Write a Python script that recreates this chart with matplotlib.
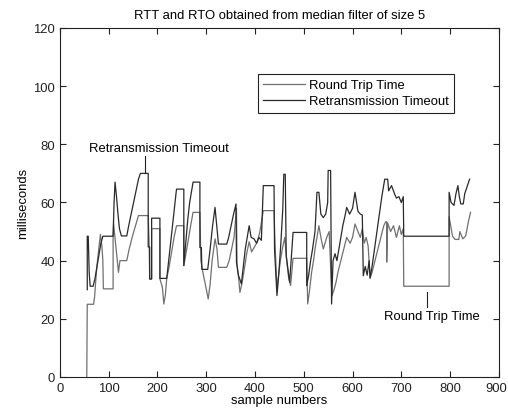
import matplotlib
matplotlib.use("Agg")
import matplotlib.pyplot as plt
import matplotlib.transforms as mtransforms

plt.rcParams['font.family'] = ['Liberation Sans', 'DejaVu Sans']

title = "RTT and RTO obtained from median filter of size 5"
xlabel = "sample numbers"
ylabel = "milliseconds"
legend_labels = ["Round Trip Time", "Retransmission Timeout"]
xticks = [0, 100, 200, 300, 400, 500, 600, 700, 800, 900]
yticks = [0, 20, 40, 60, 80, 100, 120]

# Round Trip Time (lower, gray) vertices: sample numbers and values (ms)
rtt_x = [55, 56, 69, 71, 73, 75, 77, 80, 83, 86, 88, 89, 109, 109, 110, 120, 123, 137, 142, 148, 155, 161, 181,
         183, 184, 188, 188, 205, 205, 210, 213, 216, 219, 224, 229, 234, 239, 254, 254, 258, 263, 268, 273, 287,
         289, 293, 298, 304, 308, 312, 318, 322, 325, 342, 347, 352, 357, 362, 363, 367, 369, 373, 378, 383, 388,
         393, 400, 405, 410, 417, 439, 441, 445, 449, 452, 456, 461, 465, 469, 473, 478, 506, 508, 512, 516, 520,
         523, 527, 531, 535, 540, 547, 552, 556, 558, 562, 566, 570, 576, 582, 588, 595, 600, 605, 611, 616, 620,
         624, 628, 632, 636, 640, 646, 652, 658, 664, 668, 670, 670, 672, 678, 684, 690, 696, 700, 704, 705, 798,
         798, 805, 810, 818, 820, 826, 832, 838, 842]
rtt_y = [0, 25, 25, 27.5, 32, 36.6, 40, 44.7, 49, 45, 40, 30.3, 30.3, 48, 52.7, 36, 40, 40, 44, 48, 52, 55.5, 55.5,
         45, 33.7, 33.7, 51, 51, 33.7, 30.9, 25.1, 28, 33.9, 38, 43, 48, 52, 52, 38.3, 42, 47, 52, 56.6, 56.6,
         40, 36, 32, 26.8, 32, 40, 47.5, 44, 37.7, 37.7, 40, 44, 48, 58, 39, 33, 29.1, 32, 37, 42.5, 46.5,
         43, 45, 46.5, 50, 57.2, 57.2, 46, 30, 36, 40, 44, 48, 40, 34, 31.5, 40.8, 40.8, 25.1, 30, 36, 40,
         44, 48, 52, 48, 44, 48, 50, 34, 28, 30, 32.5, 36, 40, 44, 48, 46, 48, 52.6, 50, 48, 51,
         46, 48, 45, 34, 36, 40, 44, 48, 52, 53.4, 53.4, 39.5, 53, 50, 52, 48, 52, 49, 51, 31.2, 31.2,
         55.1, 48.4, 47.3, 47.3, 50, 47.5, 48.5, 53.8, 56.6]

# Retransmission Timeout (upper, dark) vertices
rto_x = [56, 56, 58, 60, 62, 68, 72, 76, 80, 84, 88, 109, 111, 113, 116, 119, 122, 126, 137, 141, 146, 151, 156, 161,
         165, 181, 181, 184, 184, 188, 188, 205, 205, 219, 223, 227, 231, 235, 239, 254, 254, 258, 262, 266, 273,
         287, 287, 290, 291, 303, 308, 313, 318, 322, 325, 342, 346, 351, 356, 361, 362, 366, 372, 376, 380, 384,
         388, 392, 398, 403, 408, 413, 417, 439, 440, 443, 445, 449, 453, 457, 459, 462, 464, 471, 474, 478, 506,
         506, 510, 514, 518, 523, 527, 531, 535, 540, 545, 549, 550, 555, 557, 560, 564, 568, 572, 576, 580, 584,
         588, 594, 600, 605, 611, 616, 620, 622, 626, 630, 634, 636, 640, 645, 650, 655, 660, 666, 672, 674, 680,
         686, 690, 695, 700, 704, 705, 798, 798, 802, 808, 812, 816, 819, 822, 827, 830, 834, 840]
rto_y = [30, 48.4, 48.4, 35.8, 31.2, 31.2, 34, 38, 42, 46, 48.4, 48.4, 60, 67, 62, 56, 51, 48.5, 48.5, 52, 56, 60, 64, 68,
         70, 70, 44.7, 44.7, 33.7, 33.7, 54.6, 54.6, 33.9, 33.9, 40, 46, 52, 58, 64.6, 64.6, 38.3, 46, 54, 60, 67,
         67, 44.5, 44.5, 37, 37, 44, 52, 58.3, 51, 45.7, 45.7, 48, 52, 56, 59.5, 39.4, 35, 32, 38, 44, 48,
         52, 48, 47.5, 46, 48, 47, 65.8, 65.8, 44, 34, 28, 36, 46, 58, 69.7, 69.7, 41.7, 32.6, 40, 49.7, 49.7,
         31.4, 35, 40, 44, 50, 63.5, 63.5, 56, 54.8, 56, 60, 71, 71, 25.1, 40, 42.4, 40, 44, 48, 52, 55,
         58.3, 56, 58, 63.5, 57, 56, 55.7, 34.8, 38, 35, 40, 34, 38, 44, 50, 56, 62, 68, 68, 64, 65.8,
         63, 61.5, 62, 60, 62, 48.4, 48.4, 63.5, 60, 59, 63, 65.8, 62, 59.5, 59.5, 63, 65, 68]

FS = 9.4
fig = plt.figure(figsize=(5.08, 4.14), dpi=100)
ax = fig.add_axes([0.118, 0.087, 0.864, 0.843])

ax.plot(rtt_x, rtt_y, color='#707070', lw=0.9, label=legend_labels[0])
ax.plot(rto_x, rto_y, color='#2a2a2a', lw=0.9, label=legend_labels[1])

ax.set_xlim(0, 900)
ax.set_ylim(0, 120)
ax.set_xticks(xticks)
ax.set_yticks(yticks)
ax.tick_params(direction='in', top=True, right=True, labelsize=FS, length=4, width=0.8, colors='#222222')
for s in ax.spines.values():
    s.set_linewidth(0.8)
    s.set_color('#222222')

# keep the last x tick label inside the canvas
fig.canvas.draw()
last = ax.get_xticklabels()[-1]
last.set_transform(last.get_transform() + mtransforms.ScaledTranslation(-3 / 100, 0, fig.dpi_scale_trans))

ax.set_title(title, fontsize=FS, pad=7)
ax.set_xlabel(xlabel, fontsize=FS, labelpad=0)
ax.set_ylabel(ylabel, fontsize=FS, labelpad=3)

leg = ax.legend(loc='upper left', bbox_to_anchor=(0.451, 0.868), borderaxespad=0, fontsize=FS,
                handlelength=3.2, handletextpad=0.35, fancybox=False, framealpha=1, edgecolor='#222222',
                borderpad=0.4, labelspacing=0.3)
leg.get_frame().set_linewidth(0.8)

# annotations
ax.plot([174, 174], [70, 76], color='#222222', lw=0.8)
ax.text(203, 78.6, "Retransmission Timeout", fontsize=FS, ha='center', va='center')
ax.plot([752, 752], [29.3, 24], color='#222222', lw=0.8)
ax.text(763, 21, "Round Trip Time", fontsize=FS, ha='center', va='center')

fig.savefig("out.png", dpi=100)
